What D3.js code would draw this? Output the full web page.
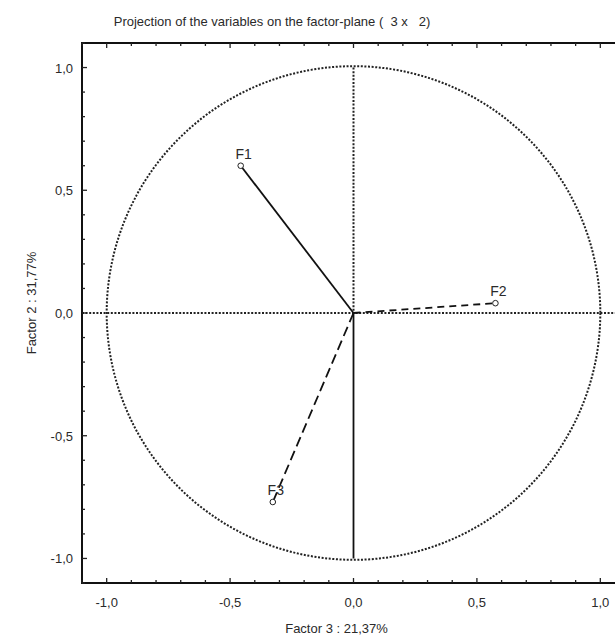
<!DOCTYPE html>
<html>
<head>
<meta charset="utf-8">
<script src="https://cdn.jsdelivr.net/npm/d3@7"></script>
<style>
  body { margin: 0; background: #fff; }
  text { font-family: "Liberation Sans", Arial, sans-serif; fill: #2a2a2a; white-space: pre; }
</style>
</head>
<body>
<script>
var width = 615;
var height = 641;

// variables projected on the factor plane (factor 3 on x, factor 2 on y)
var varNames = ["F1", "F2", "F3"];
var factor3 = [-0.457, 0.575, -0.327];
var factor2 = [0.60, 0.04, -0.77];
var lineDash = ["none", "7,5", "10,5"];

var majorTicks = [-1.0, -0.5, 0.0, 0.5, 1.0];
var minorTicks = d3.range(-11, 12).map(function (d) { return d / 10; });

var titleText = "Projection of the variables on the factor-plane (  3 x   2)";
var xTitle = "Factor 3 : 21,37%";
var yTitle = "Factor 2 : 31,77%";

var fmt = function (d) { return d3.format(".1f")(d).replace(".", ",").replace("−", "-"); };

var svg = d3.select("body").append("svg")
    .attr("width", width)
    .attr("height", height);

/*====================================================================
       scales: both axes run from -1.1 to 1.1, frame cut at the right
    ==================================================================*/
var x = d3.scaleLinear().domain([-1.1, 1.1]).range([82, 625]);
var y = d3.scaleLinear().domain([-1.1, 1.1]).range([583, 43]);

var plot = svg.append("g");

// circle of correlations
plot.append("circle")
    .attr("cx", x(0))
    .attr("cy", y(0))
    .attr("r", x(1) - x(0))
    .attr("fill", "none")
    .attr("stroke", "#222")
    .attr("stroke-width", 2)
    .attr("stroke-dasharray", "2,1.6");

// horizontal axis through origin
plot.append("line")
    .attr("x1", x(-1.1)).attr("x2", x(1.1))
    .attr("y1", y(0)).attr("y2", y(0))
    .attr("stroke", "#222")
    .attr("stroke-width", 2)
    .attr("stroke-dasharray", "2,1.6");

// vertical axis: dotted above, solid below
plot.append("line")
    .attr("x1", x(0)).attr("x2", x(0))
    .attr("y1", y(1)).attr("y2", y(0))
    .attr("stroke", "#222")
    .attr("stroke-width", 2)
    .attr("stroke-dasharray", "2,1.6");
plot.append("line")
    .attr("x1", x(0)).attr("x2", x(0))
    .attr("y1", y(0)).attr("y2", y(-1))
    .attr("stroke", "#111")
    .attr("stroke-width", 1.8);

// vectors
varNames.forEach(function (name, i) {
    plot.append("line")
        .attr("x1", x(0)).attr("y1", y(0))
        .attr("x2", x(factor3[i])).attr("y2", y(factor2[i]))
        .attr("stroke", "#111")
        .attr("stroke-width", 1.8)
        .attr("stroke-dasharray", lineDash[i]);

    plot.append("circle")
        .attr("cx", x(factor3[i]))
        .attr("cy", y(factor2[i]))
        .attr("r", 2.8)
        .attr("fill", "#fff")
        .attr("stroke", "#222")
        .attr("stroke-width", 1);

    plot.append("text")
        .attr("x", x(factor3[i]) + 3)
        .attr("y", y(factor2[i]) - 7)
        .attr("text-anchor", "middle")
        .attr("font-size", 14)
        .text(name);
});

/*====================================================================
       frame with inward ticks
    ==================================================================*/
var frame = svg.append("g");

frame.append("rect")
    .attr("x", x(-1.1))
    .attr("y", y(1.1))
    .attr("width", x(1.1) - x(-1.1))
    .attr("height", y(-1.1) - y(1.1))
    .attr("fill", "none")
    .attr("stroke", "#111")
    .attr("stroke-width", 2);

var tickLen = function (d) { return majorTicks.indexOf(d) >= 0 ? 5 : 3; };

minorTicks.forEach(function (d) {
    var L = tickLen(d);
    frame.append("line")
        .attr("x1", x(d)).attr("x2", x(d))
        .attr("y1", y(-1.1)).attr("y2", y(-1.1) - L)
        .attr("stroke", "#222").attr("stroke-width", 1.3);
    frame.append("line")
        .attr("x1", x(d)).attr("x2", x(d))
        .attr("y1", y(1.1)).attr("y2", y(1.1) + L)
        .attr("stroke", "#222").attr("stroke-width", 1.3);
    frame.append("line")
        .attr("x1", x(-1.1)).attr("x2", x(-1.1) + L)
        .attr("y1", y(d)).attr("y2", y(d))
        .attr("stroke", "#222").attr("stroke-width", 1.3);
});

majorTicks.forEach(function (d) {
    frame.append("text")
        .attr("x", x(d))
        .attr("y", y(-1.1) + 24)
        .attr("text-anchor", "middle")
        .attr("font-size", 13)
        .text(fmt(d));
    frame.append("text")
        .attr("x", x(-1.1) - 9)
        .attr("y", y(d) + 5)
        .attr("text-anchor", "end")
        .attr("font-size", 13)
        .text(fmt(d));
});

// titles
svg.append("text")
    .attr("x", 272)
    .attr("y", 26)
    .attr("text-anchor", "middle")
    .attr("font-size", 13)
    .text(titleText);

svg.append("text")
    .attr("x", x(0) - 17)
    .attr("y", 633)
    .attr("text-anchor", "middle")
    .attr("font-size", 13)
    .text(xTitle);

svg.append("text")
    .attr("transform", "translate(" + 36 + "," + 303 + ") rotate(-90)")
    .attr("text-anchor", "middle")
    .attr("font-size", 13)
    .text(yTitle);
</script>
</body>
</html>
